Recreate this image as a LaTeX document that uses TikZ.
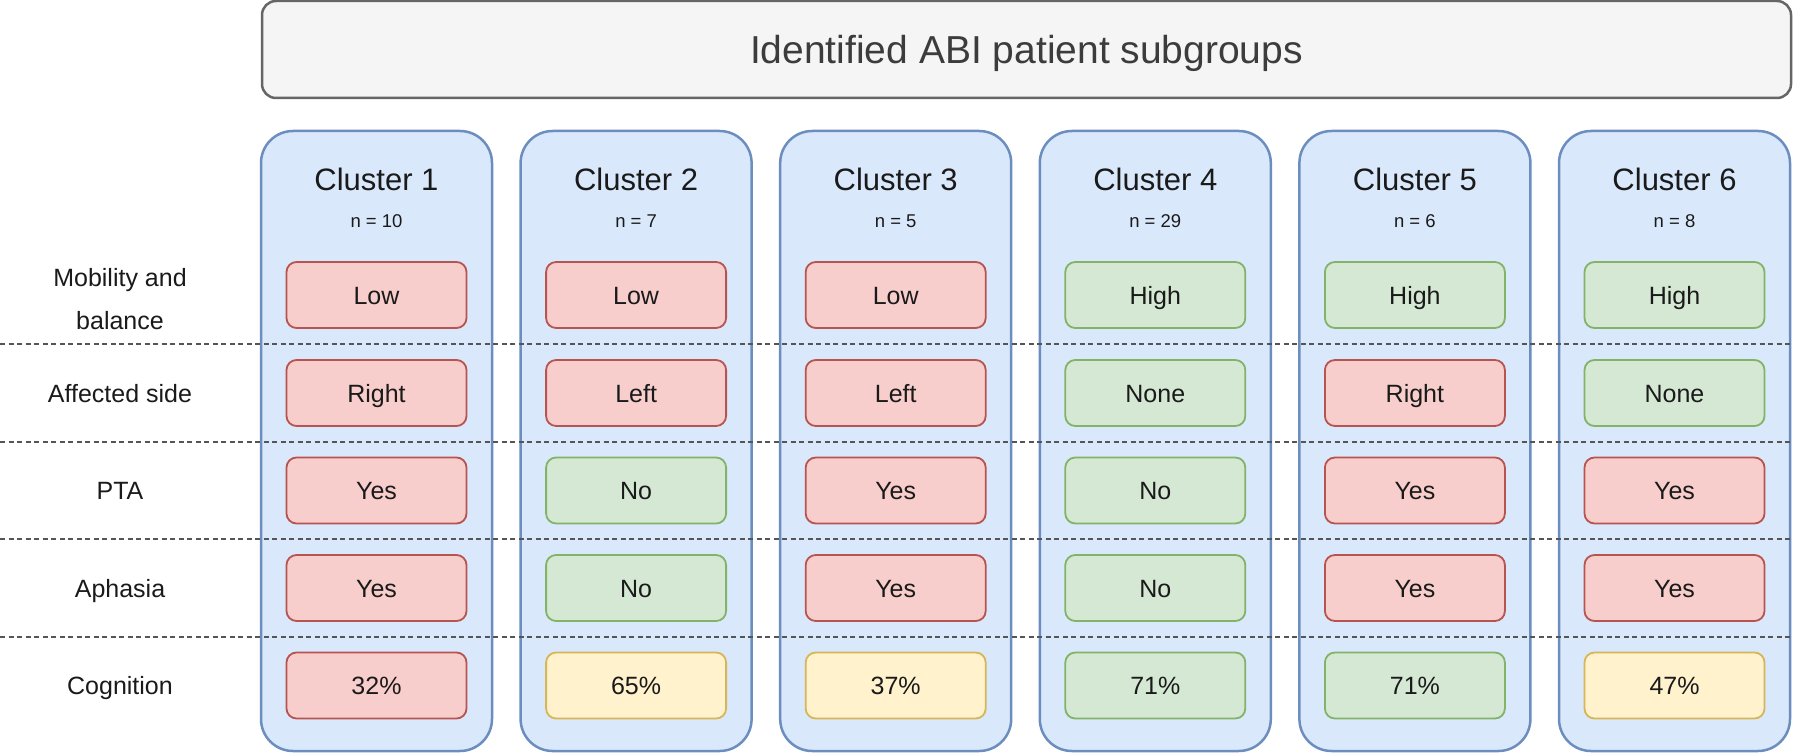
\documentclass[tikz,border=0pt]{standalone}
\usepackage{fontspec}
\setmainfont{Liberation Sans}
\definecolor{titlefill}{HTML}{F5F5F5}
\definecolor{titleline}{HTML}{666666}
\definecolor{clfill}{HTML}{DAE8FC}
\definecolor{clline}{HTML}{6C8EBF}
\definecolor{badfill}{HTML}{F8CECC}
\definecolor{badline}{HTML}{B85450}
\definecolor{goodfill}{HTML}{D5E8D4}
\definecolor{goodline}{HTML}{82B366}
\definecolor{midfill}{HTML}{FFF2CC}
\definecolor{midline}{HTML}{D6B656}
\definecolor{txt}{HTML}{1A1A1A}
\definecolor{sep}{HTML}{555555}
\begin{document}
\begin{tikzpicture}[x=1pt,y=-1pt,
  titlebox/.style={draw=titleline,fill=titlefill,line width=2.5pt,rounded corners=14pt,
    minimum width=1529pt,minimum height=97pt,inner sep=0pt,text=txt!85!white,
    text height=28pt,text depth=0pt,
    font=\fontsize{39}{44}\selectfont},
  cluster/.style={draw=clline,fill=clfill,line width=2.5pt,rounded corners=32pt,
    minimum width=231pt,minimum height=620pt,inner sep=0pt},
  clhead/.style={text=txt,font=\fontsize{31}{36}\selectfont,inner sep=0pt,
    text height=22pt,text depth=0pt},
  clcount/.style={text=txt,font=\fontsize{18.5}{22}\selectfont,inner sep=0pt,
    text height=13.3pt,text depth=0pt},
  valbox/.style={rounded corners=10pt,line width=1.8pt,minimum width=180pt,
    minimum height=66pt,inner sep=0pt,text=txt,text height=18pt,text depth=0pt,
    font=\fontsize{25}{30}\selectfont},
  valbad/.style={valbox,draw=badline,fill=badfill},
  valgood/.style={valbox,draw=goodline,fill=goodfill},
  valmid/.style={valbox,draw=midline,fill=midfill},
  rowlabel/.style={text=txt,align=center,inner sep=0pt,text height=18pt,text depth=0pt,
    font=\fontsize{25}{43}\selectfont},
  sepline/.style={draw=sep,line width=1.4pt,dash pattern=on 5pt off 3.5pt}
]
\useasboundingbox (0,0) rectangle (1794,754);

\node[titlebox] (title) at (1026.5,49.5) {Identified ABI patient subgroups};

\foreach \i/\nn in {1/10,2/7,3/5,4/29,5/6,6/8} {
  \pgfmathsetmacro\cx{376.5+(\i-1)*259.6}
  \node[cluster] (c\i) at (\cx,441) {};
  \node[clhead] (h\i) at (\cx,180) {Cluster \i};
  \node[clcount] (n\i) at (\cx,221) {n = \nn};
}

% dashed separators
\foreach \k/\yy in {1/344,2/442,3/539,4/637} {
  \coordinate (s\k l) at (0,\yy);
  \coordinate (s\k r) at (1794,\yy);
  \draw[sepline] (s\k l) -- (s\k r);
}

% row labels
\node[rowlabel] (r1) at (120,320) {Mobility and\\balance};
\node[rowlabel] (r2) at (120,393) {Affected side};
\node[rowlabel] (r3) at (120,490.5) {PTA};
\node[rowlabel] (r4) at (120,588) {Aphasia};
\node[rowlabel] (r5) at (120,685.5) {Cognition};

% values
\foreach \r/\yy/\vals in {
  1/295/{valbad/Low,valbad/Low,valbad/Low,valgood/High,valgood/High,valgood/High},
  2/393/{valbad/Right,valbad/Left,valbad/Left,valgood/None,valbad/Right,valgood/None},
  3/490.5/{valbad/Yes,valgood/No,valbad/Yes,valgood/No,valbad/Yes,valbad/Yes},
  4/588/{valbad/Yes,valgood/No,valbad/Yes,valgood/No,valbad/Yes,valbad/Yes},
  5/685.5/{valbad/32\%,valmid/65\%,valmid/37\%,valgood/71\%,valgood/71\%,valmid/47\%}} {
  \foreach \st/\tx [count=\i] in \vals {
    \node[\st] (v\r-\i) at ({376.5+(\i-1)*259.6},\yy) {\tx};
  }
}
\end{tikzpicture}
\end{document}
